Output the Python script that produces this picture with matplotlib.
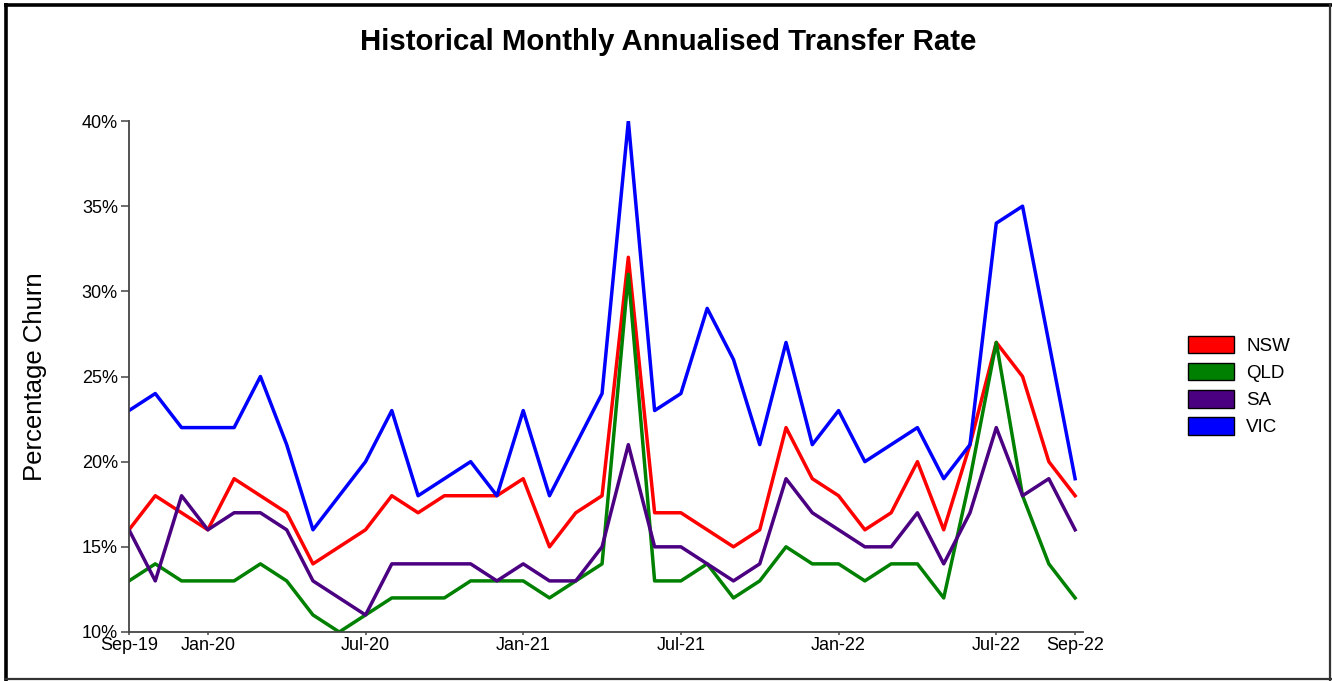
import matplotlib
matplotlib.use("Agg")
import matplotlib.pyplot as plt
from matplotlib.lines import Line2D
from matplotlib.patches import Patch
from matplotlib.ticker import FuncFormatter

# ---- data ----
months = list(range(37))  # Sep-19 .. Sep-22 (monthly index)
tick_positions = [0, 3, 9, 15, 21, 27, 33, 36]
tick_labels = ["Sep-19", "Jan-20", "Jul-20", "Jan-21", "Jul-21", "Jan-22", "Jul-22", "Sep-22"]

nsw = [16, 18, 17, 16, 19, 18, 17, 14, 15, 16, 18, 17, 18, 18, 18, 19, 15, 17, 18, 32,
       17, 17, 16, 15, 16, 22, 19, 18, 16, 17, 20, 16, 21, 27, 25, 20, 18]
qld = [13, 14, 13, 13, 13, 14, 13, 11, 10, 11, 12, 12, 12, 13, 13, 13, 12, 13, 14, 31,
       13, 13, 14, 12, 13, 15, 14, 14, 13, 14, 14, 12, 19, 27, 18, 14, 12]
sa = [16, 13, 18, 16, 17, 17, 16, 13, 12, 11, 14, 14, 14, 14, 13, 14, 13, 13, 15, 21,
      15, 15, 14, 13, 14, 19, 17, 16, 15, 15, 17, 14, 17, 22, 18, 19, 16]
vic = [23, 24, 22, 22, 22, 25, 21, 16, 18, 20, 23, 18, 19, 20, 18, 23, 18, 21, 24, 40,
       23, 24, 29, 26, 21, 27, 21, 23, 20, 21, 22, 19, 21, 34, 35, 27, 19]

series_names = ["NSW", "QLD", "SA", "VIC"]
series_colors = ["#ff0000", "#008000", "#4b0082", "#0000ff"]

plt.rcParams['font.family'] = ['Liberation Sans', 'DejaVu Sans']

W, H = 1332, 681
fig = plt.figure(figsize=(W / 100, H / 100), dpi=100)
fig.patch.set_facecolor("white")

ax = fig.add_axes([129 / W, 1 - 632 / H, (1083 - 129) / W, (632 - 121) / H])

for vals, name, col in zip([nsw, qld, sa, vic], series_names, series_colors):
    ax.plot(months, vals, color=col, lw=2.5, label=name)

ax.set_xlim(0, 36.3)
ax.set_ylim(10, 40)
ax.set_yticks([10, 15, 20, 25, 30, 35, 40])
ax.yaxis.set_major_formatter(FuncFormatter(lambda v, p: f"{int(v)}%"))
ax.set_xticks(tick_positions)
ax.set_xticklabels(tick_labels)

for s in ["top", "right"]:
    ax.spines[s].set_visible(False)
for s in ["left", "bottom"]:
    ax.spines[s].set_color("#444444")
    ax.spines[s].set_linewidth(1.3)

ax.tick_params(axis="y", length=6, width=1.1, color="#444444", labelsize=13, pad=2, labelcolor="black")
ax.tick_params(axis="x", length=2.5, width=1.1, color="#444444", labelsize=13, pad=1, labelcolor="black")

ax.set_ylabel("Percentage Churn", fontsize=18.5, labelpad=0)
ax.yaxis.set_label_coords(-82 / 954, 0.5)

fig.text(0.5015, 1 - 42 / H, "Historical Monthly Annualised Transfer Rate",
         ha="center", va="center", fontsize=21.2, fontweight="bold")

handles = [Patch(facecolor=c, edgecolor="black", linewidth=1.0, label=n)
           for n, c in zip(series_names, series_colors)]
fig.legend(handles=handles, loc="center left", bbox_to_anchor=(1175 / W, 1 - 386 / H),
           frameon=False, fontsize=13.5, handlelength=2.45, handleheight=1.07,
           handletextpad=0.65, labelspacing=0.42, borderpad=0.2)

# outer frame
fig.add_artist(Line2D([5.5 / W, 5.5 / W], [0, 1 - 3 / H], transform=fig.transFigure,
                      color="black", lw=2.6, solid_capstyle="butt"))
fig.add_artist(Line2D([4 / W, 1], [1 - 5 / H, 1 - 5 / H], transform=fig.transFigure,
                      color="black", lw=2.6, solid_capstyle="butt"))
fig.add_artist(Line2D([1330 / W, 1330 / W], [0, 1 - 3 / H], transform=fig.transFigure,
                      color="#333333", lw=1.6, solid_capstyle="butt"))
fig.add_artist(Line2D([4 / W, 1], [1 - 679 / H, 1 - 679 / H], transform=fig.transFigure,
                      color="#333333", lw=1.6, solid_capstyle="butt"))

fig.savefig("out.png", dpi=100, facecolor="white")
